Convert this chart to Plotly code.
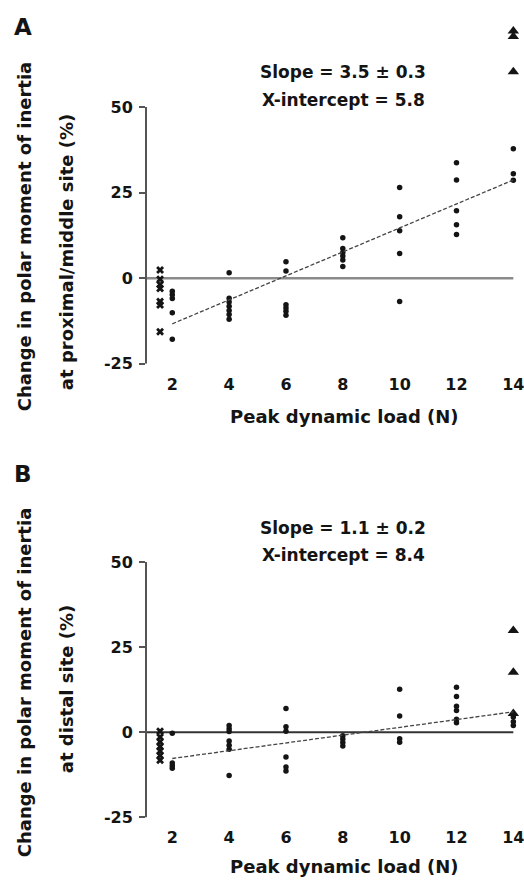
import plotly.graph_objects as go

# ---------------- data ----------------
loads = [2, 4, 6, 8, 10, 12, 14]
sham_x = 1.57  # position of the sham (x) group left of 2 N

# Panel A: proximal/middle site
A_sham = [2.4, -0.3, -1.8, -3.0, -6.8, -7.8, -15.6]
A_dots = {
    2: [-3.8, -4.8, -5.9, -10.1, -17.8],
    4: [1.6, -5.8, -6.9, -8.2, -9.4, -10.6, -12.0],
    6: [4.8, 2.1, -7.7, -8.7, -9.6, -10.8],
    8: [11.8, 8.7, 7.5, 6.5, 5.3, 3.4],
    10: [26.5, 18.0, 13.9, 7.2, -6.8],
    12: [33.7, 28.7, 19.7, 15.6, 12.8],
    14: [37.8, 30.5, 28.6],
}
A_tri = [72.2, 70.6, 60.3]
A_fit_x = [2, 14]
A_fit_y = [-13.3, 28.7]
A_text = ["Slope = 3.5 ± 0.3", "X-intercept = 5.8"]
A_ytitle = ["Change in polar moment of inertia", "at proximal/middle site (%)"]

# Panel B: distal site
B_sham = [0.3, -1.4, -2.8, -4.2, -5.5, -6.8, -8.2]
B_dots = {
    2: [-0.3, -9.0, -9.8, -10.6],
    4: [2.0, 1.0, 0.2, -2.6, -3.8, -5.0, -12.7],
    6: [7.0, 1.6, 0.3, -7.3, -10.2, -11.4],
    8: [-1.0, -2.0, -3.0, -4.0],
    10: [12.6, 4.8, -1.9, -2.9],
    12: [13.2, 10.5, 7.6, 6.4, 3.8, 2.8],
    14: [4.5, 3.1, 2.0],
}
B_tri = [29.9, 17.6, 5.5]
B_fit_x = [2, 14]
B_fit_y = [-7.7, 6.0]
B_text = ["Slope = 1.1 ± 0.2", "X-intercept = 8.4"]
B_ytitle = ["Change in polar moment of inertia", "at distal site (%)"]

yticks = [-25, 0, 25, 50]
xtitle = "Peak dynamic load (N)"

# ---------------- layout helpers ----------------
W, H = 524, 890
ML, MR = 146, 6
XR = [1.075, 1.075 + (W - ML - MR) / 28.42]
FONT = "DejaVu Sans"
INK = "#141414"


def px(x):
    return (x - ML) / (W - ML - MR)


def py(y):
    return 1 - y / H


fig = go.Figure()


def add_panel(xa, ya, sham, dots, tri, fit_x, fit_y):
    fig.add_trace(go.Scatter(
        x=[sham_x] * len(sham), y=sham, mode="markers", xaxis=xa, yaxis=ya,
        marker=dict(symbol="x", size=7, color=INK, line=dict(width=0)),
        showlegend=False, cliponaxis=False))
    xs, ys = [], []
    for k in loads:
        for v in dots[k]:
            xs.append(k)
            ys.append(v)
    fig.add_trace(go.Scatter(
        x=xs, y=ys, mode="markers", xaxis=xa, yaxis=ya,
        marker=dict(symbol="circle", size=5.5, color=INK),
        showlegend=False, cliponaxis=False))
    fig.add_trace(go.Scatter(
        x=[14] * len(tri), y=tri, mode="markers", xaxis=xa, yaxis=ya,
        marker=dict(symbol="triangle-up", size=10, color=INK),
        showlegend=False, cliponaxis=False))
    fig.add_trace(go.Scatter(
        x=fit_x, y=fit_y, mode="lines", xaxis=xa, yaxis=ya,
        line=dict(color="#444444", width=1.3, dash="4px,2px"),
        showlegend=False))


add_panel("x", "y", A_sham, A_dots, A_tri, A_fit_x, A_fit_y)
add_panel("x2", "y2", B_sham, B_dots, B_tri, B_fit_x, B_fit_y)

tickfont = dict(family=FONT, size=16, color=INK, weight="bold")
xcommon = dict(range=XR, tickmode="array", tickvals=loads, ticktext=[str(v) for v in loads],
               showgrid=False, zeroline=False, showline=False, ticks="",
               tickfont=tickfont, domain=[0, 1], fixedrange=True,
               ticklabeloverflow="allow")
ycommon = dict(range=[-25, 75], tickmode="array", tickvals=yticks,
               ticktext=[str(v) for v in yticks], showgrid=False, zeroline=False,
               showline=False, ticks="outside", ticklen=6, tickwidth=1.5,
               tickcolor="#555555", tickfont=tickfont, fixedrange=True,
               ticklabelstandoff=3)

fig.update_layout(
    width=W, height=H,
    margin=dict(l=ML, r=MR, t=0, b=0),
    paper_bgcolor="white", plot_bgcolor="white",
    xaxis=dict(**xcommon, anchor="y", ticklabelstandoff=9),
    yaxis=dict(**ycommon, domain=[py(368), py(21.7)], anchor="x"),
    xaxis2=dict(**xcommon, anchor="y2", ticklabelstandoff=9),
    yaxis2=dict(**ycommon, domain=[py(826.7), py(482.2)], anchor="x2"),
)

shapes = []
for xr, yr, zc, zw in [("x", "y", "#8a8a8a", 2.5), ("x2", "y2", "#333333", 1.8)]:
    # y-axis line from -25 to 50
    shapes.append(dict(type="line", xref=xr + " domain", yref=yr, x0=0, x1=0,
                       y0=yticks[0], y1=yticks[-1], line=dict(color="#555555", width=2)))
    # zero line up to 14 N
    shapes.append(dict(type="line", xref=xr, yref=yr, x0=XR[0], x1=loads[-1],
                       y0=0, y1=0, line=dict(color=zc, width=zw), layer="below"))
fig.update_layout(shapes=shapes)

ann = []


def txt(text, x, y, size, angle=0, xanchor="center"):
    ann.append(dict(text=text, x=px(x), y=py(y), xref="paper", yref="paper",
                    showarrow=False, xanchor=xanchor, yanchor="middle",
                    textangle=angle,
                    font=dict(family=FONT, size=size, color=INK, weight="bold")))


# panel letters
txt("A", 23, 27, 23)
txt("B", 23, 479, 23)
# slope text
txt(A_text[0], 343, 73, 17)
txt(A_text[1], 343, 101, 17)
txt(B_text[0], 343, 534, 17)
txt(B_text[1], 343, 561, 17)
# y titles
txt(A_ytitle[0], 24, 239, 18, -90)
txt(A_ytitle[1], 66, 255, 18, -90)
txt(B_ytitle[0], 24, 690, 18, -90)
txt(B_ytitle[1], 66, 697, 18, -90)
# x titles
txt(xtitle, 344, 421, 18)
txt(xtitle, 344, 876, 18)

fig.update_layout(annotations=ann)

fig.write_html("out.html")
